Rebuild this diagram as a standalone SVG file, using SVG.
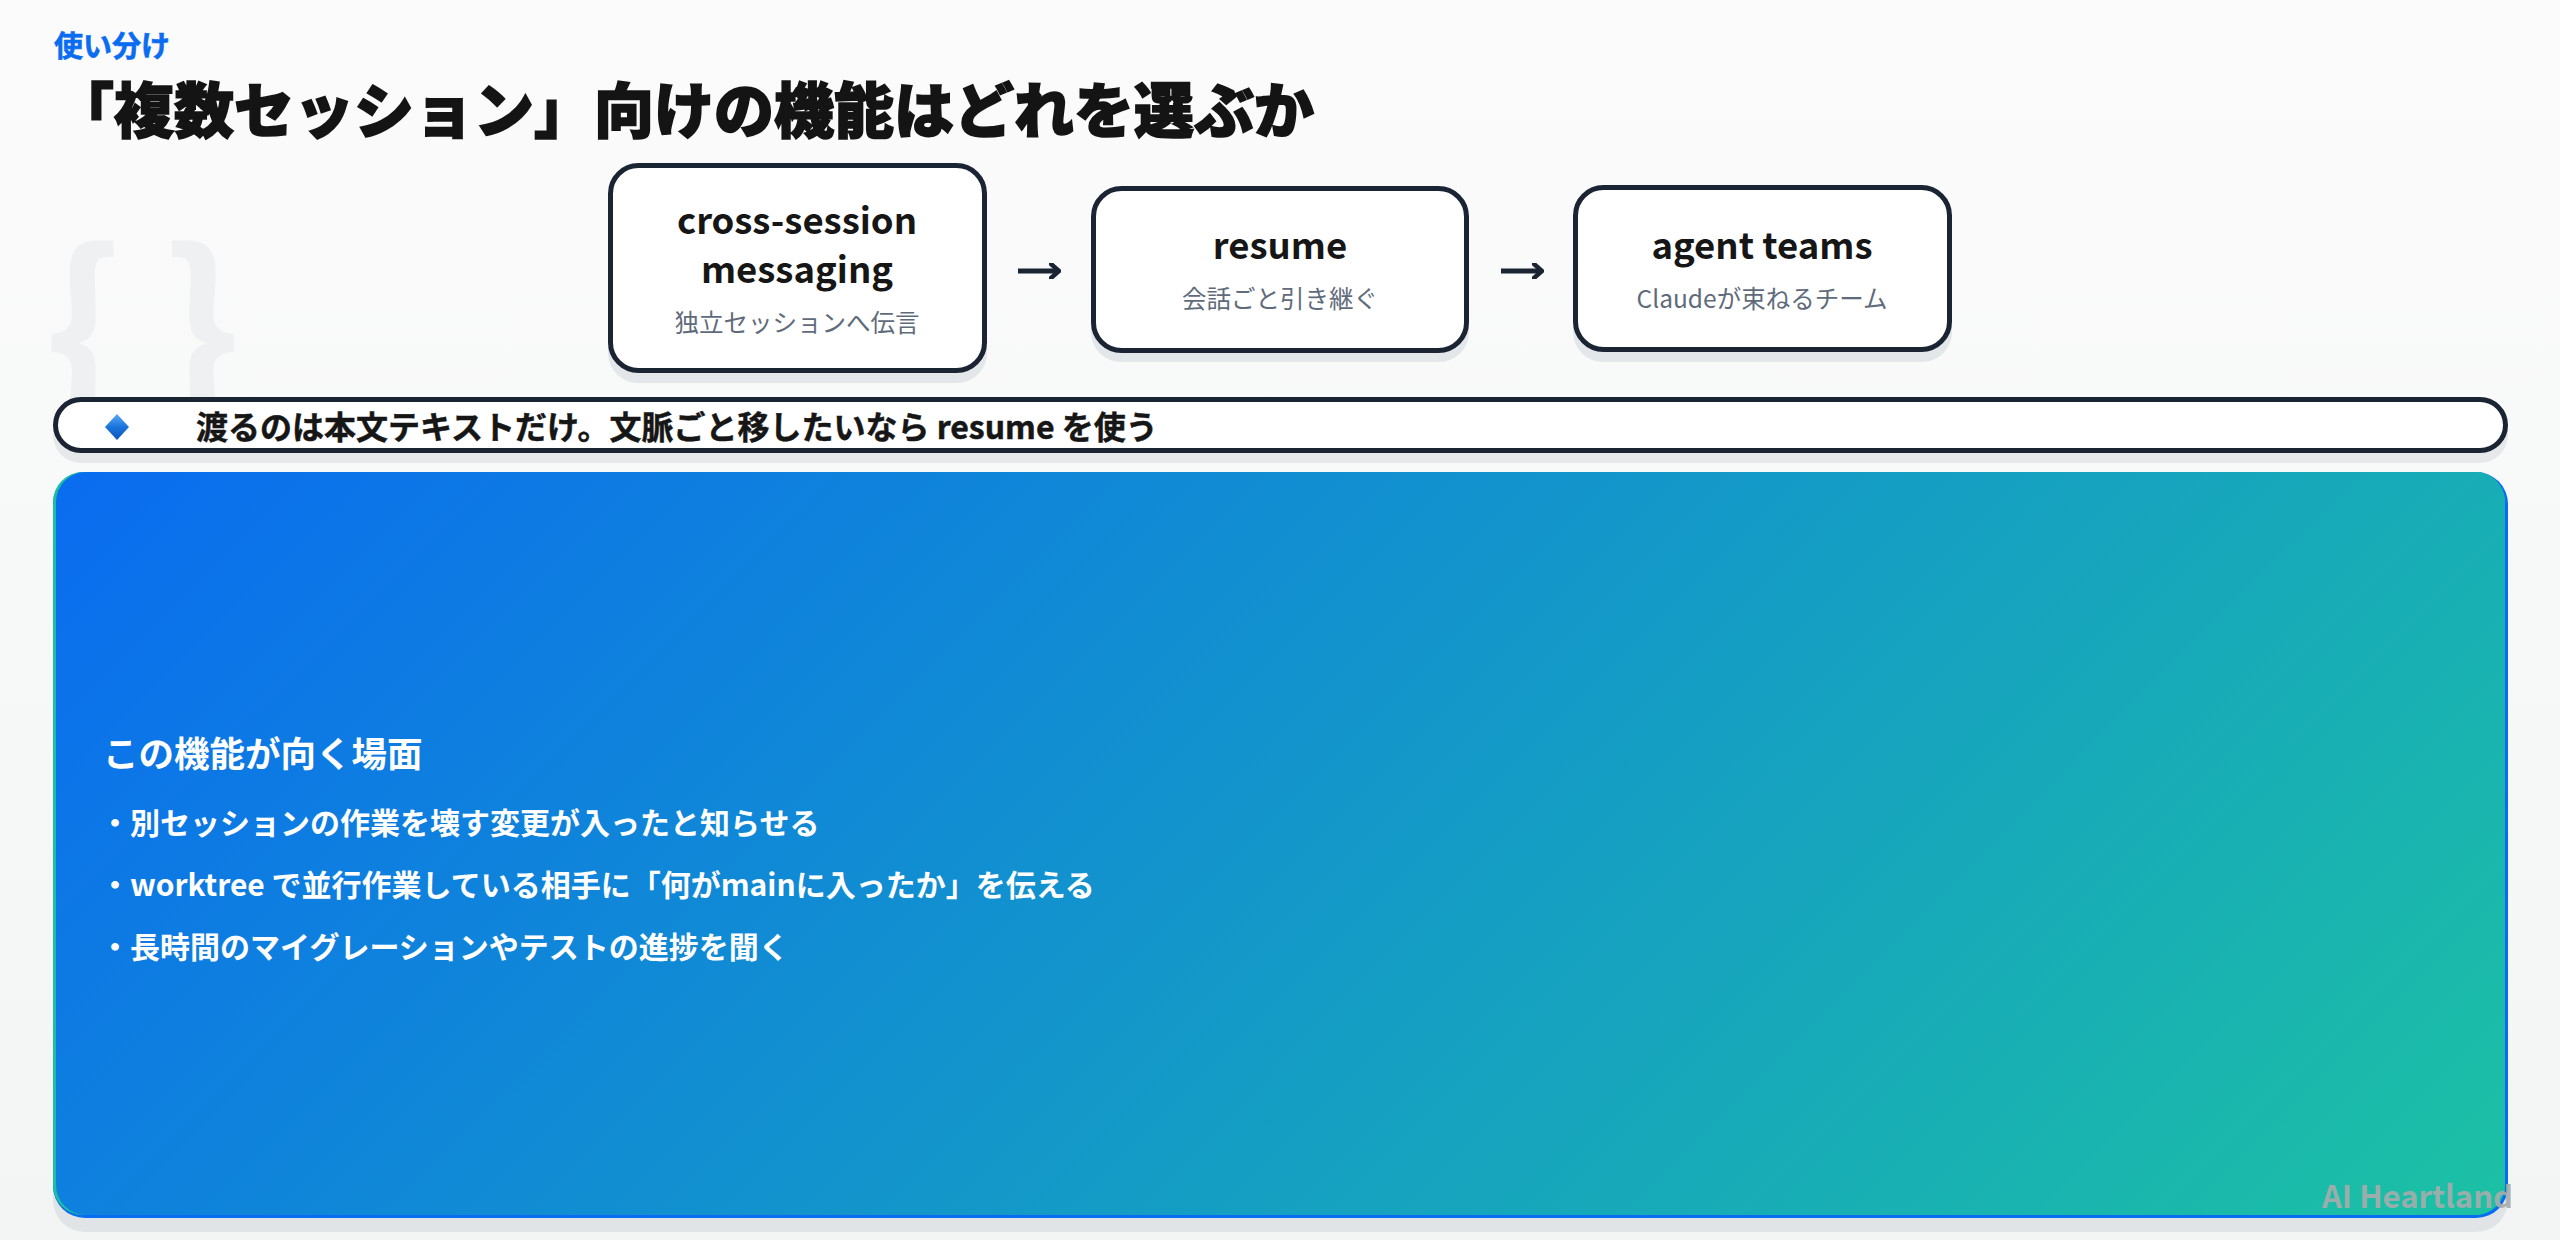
<svg xmlns="http://www.w3.org/2000/svg" width="2560" height="1240" viewBox="0 0 2560 1240">
  <defs>
    <linearGradient id="bg" x1="0" y1="0" x2="0" y2="1">
      <stop offset="0" stop-color="#fbfbfb"/>
      <stop offset="1" stop-color="#f3f5f5"/>
    </linearGradient>
    <linearGradient id="panelGrad" x1="480" y1="45" x2="2080" y2="1645" gradientUnits="userSpaceOnUse">
      <stop offset="0" stop-color="#0a6cf0"/>
      <stop offset="1" stop-color="#1cc1a4"/>
    </linearGradient>
    <linearGradient id="diamondGrad" x1="0" y1="0" x2="0" y2="1">
      <stop offset="0" stop-color="#5aa9f5"/>
      <stop offset="0.5" stop-color="#1a74dc"/>
      <stop offset="1" stop-color="#0b55b8"/>
    </linearGradient>
    <marker id="arrowHead" viewBox="0 0 12 16" refX="10" refY="8" markerWidth="12" markerHeight="16" markerUnits="userSpaceOnUse" orient="auto">
      <path d="M2,1 L10,8 L2,15" fill="none" stroke="#1b2433" stroke-width="4.5" stroke-linecap="square"/>
    </marker>
  </defs>
  <style>
    .jp { font-family: "Noto Sans CJK JP", "Noto Sans", sans-serif; }
    .node-box { fill: #ffffff; stroke: #1b2433; stroke-width: 5; }
    .node-shadow { fill: #e4e7ea; }
    .node-title { font-size: 36.5px; font-weight: 700; fill: #161616; text-anchor: middle; }
    .node-sub { font-size: 24.5px; font-weight: 400; fill: #5f6b7a; text-anchor: middle; }
    .panel-text { fill: #ffffff; font-weight: 700; }
    .conn { stroke: #1b2433; stroke-width: 5; fill: none; }
  </style>

  <rect x="0" y="0" width="2560" height="1240" fill="url(#bg)"/>

  <!-- decorative braces -->
  <g id="deco" class="jp" fill="#eff0f1" font-size="210" font-weight="700">
    <text x="44" y="409">{</text>
    <text x="162" y="409">}</text>
  </g>

  <!-- header -->
  <g id="header" class="jp">
    <text x="54" y="57" font-size="29" font-weight="700" fill="#0a6cf0" stroke="#0a6cf0" stroke-width="0.6">使い分け</text>
    <text x="54" y="133" font-size="60" font-weight="900" fill="#141414" stroke="#141414" stroke-width="1.6">「複数セッション」向けの機能はどれを選ぶか</text>
  </g>

  <!-- nodes -->
  <g id="node-cross-session" class="jp">
    <rect class="node-shadow" x="608" y="173" width="379" height="210" rx="30"/>
    <rect class="node-box" x="610.5" y="165.5" width="374" height="205" rx="28"/>
    <text class="node-title" x="797" y="234"><tspan x="797" y="234">cross-session</tspan><tspan x="797" y="283">messaging</tspan></text>
    <text class="node-sub" x="797" y="332">独立セッションへ伝言</text>
  </g>
  <g id="node-resume" class="jp">
    <rect class="node-shadow" x="1091" y="195" width="378" height="167" rx="30"/>
    <rect class="node-box" x="1093.5" y="188.5" width="373" height="162" rx="28"/>
    <text class="node-title" x="1280" y="259">resume</text>
    <text class="node-sub" x="1280" y="308">会話ごと引き継ぐ</text>
  </g>
  <g id="node-agent-teams" class="jp">
    <rect class="node-shadow" x="1573" y="195" width="379" height="167" rx="30"/>
    <rect class="node-box" x="1575.5" y="187.5" width="374" height="162" rx="28"/>
    <text class="node-title" x="1762" y="259">agent teams</text>
    <text class="node-sub" x="1762" y="308">Claudeが束ねるチーム</text>
  </g>

  <!-- connectors -->
  <g id="connectors">
    <line class="conn" x1="1018" y1="271" x2="1059" y2="271" marker-end="url(#arrowHead)"/>
    <line class="conn" x1="1501" y1="271" x2="1542" y2="271" marker-end="url(#arrowHead)"/>
  </g>

  <!-- highlight bar -->
  <g id="highlight" class="jp">
    <rect x="53" y="407" width="2455" height="56" rx="28" fill="#e6e8ea"/>
    <rect x="55.5" y="399.5" width="2450" height="51" rx="25.5" fill="#ffffff" stroke="#1b2433" stroke-width="5"/>
    <polygon points="117,414 129,427 117,440 105,427" fill="url(#diamondGrad)"/>
    <text x="196" y="439" font-size="32" font-weight="700" fill="#161616" stroke="#161616" stroke-width="0.5">渡るのは本文テキストだけ。文脈ごと移したいなら resume を使う</text>
  </g>

  <!-- gradient panel -->
  <g id="panel" class="jp">
    <rect x="53" y="486" width="2455" height="746" rx="32" fill="#e1e4e6"/>
    <rect x="53" y="472" width="2455" height="746" rx="32" fill="#0a6cf0"/>
    <rect x="53" y="472" width="2452" height="743" rx="30" fill="#1cbfa4"/>
    <rect x="56" y="472" width="2449" height="743" rx="30" fill="url(#panelGrad)"/>
    <text class="panel-text" x="103" y="767" font-size="35.5">この機能が向く場面</text>
    <text class="panel-text" x="100" y="834" font-size="30">・別セッションの作業を壊す変更が入ったと知らせる</text>
    <text class="panel-text" x="100" y="896" font-size="30">・worktree で並行作業している相手に「何がmainに入ったか」を伝える</text>
    <text class="panel-text" x="100" y="958" font-size="30">・長時間のマイグレーションやテストの進捗を聞く</text>
  </g>

  <!-- watermark -->
  <g id="watermark" class="jp">
    <text x="2513" y="1208" font-size="31" font-weight="700" fill="#a7adac" fill-opacity="0.92" text-anchor="end">AI Heartland</text>
  </g>
</svg>
